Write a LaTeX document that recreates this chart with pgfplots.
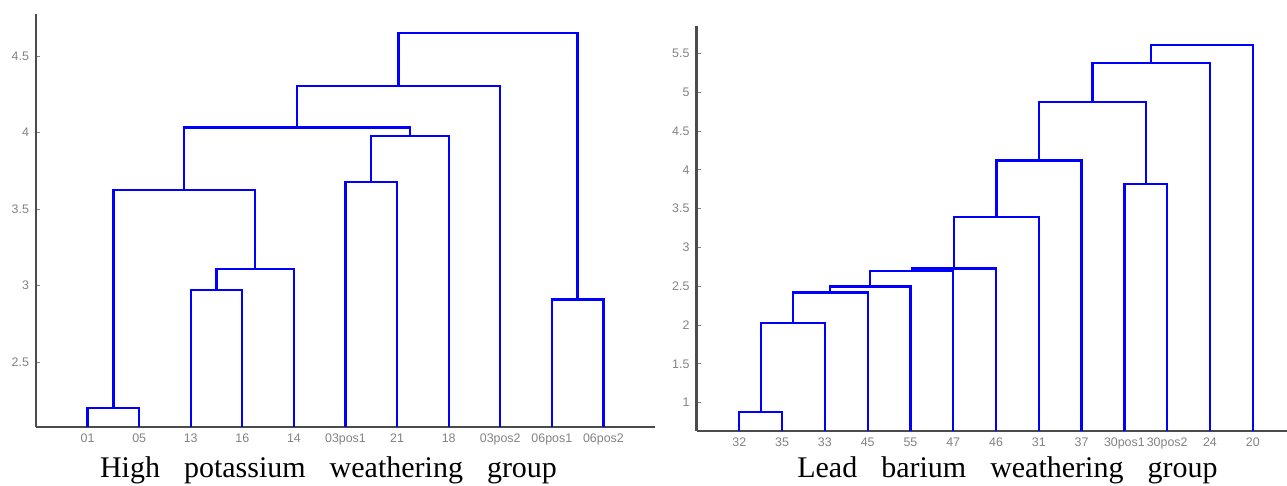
\documentclass[border=0pt]{standalone}
\usepackage{pgfplots}
\pgfplotsset{compat=1.18}
\usepackage{fontspec}
\setmainfont{Liberation Serif}
\newfontfamily\ticksf{Liberation Sans}
\definecolor{dblue}{RGB}{0,0,255}
\definecolor{axgray}{RGB}{75,75,75}
\definecolor{lblgray}{RGB}{130,130,130}
\tikzset{dl/.style={draw=dblue, line width=1.15pt, mark=none, line join=miter}}
\pgfplotsset{dendro/.style={
  scale only axis, axis lines=left, axis line style={-, axgray, line width=1.1pt},
  tick align=inside, major tick length=2pt,
  ytick style={lblgray, line width=0.4pt},
  xtick style={draw=none},
  tick label style={font=\ticksf\fontsize{6.2}{7}\selectfont, text=lblgray},
  /pgf/number format/assume math mode=true,
}}
\begin{document}
\begin{tikzpicture}
\useasboundingbox (0pt,0pt) rectangle (643.5pt,243pt);
\begin{axis}[dendro, at={(18pt,29.5pt)}, anchor=south west,
  width=309.5pt, height=206.5pt,
  xmin=0, xmax=12, ymin=2.076, ymax=4.774,
  xtick={1,2,3,4,5,6,7,8,9,10,11},
  xticklabels={01,05,13,16,14,03pos1,21,18,03pos2,06pos1,06pos2},
  ytick={2.5,3,3.5,4,4.5}]
\addplot[dl] coordinates {(1,0) (1,2.20) (2,2.20) (2,0)};
\addplot[dl] coordinates {(3,0) (3,2.97) (4,2.97) (4,0)};
\addplot[dl] coordinates {(3.5,2.97) (3.5,3.11) (5,3.11) (5,0)};
\addplot[dl] coordinates {(1.5,2.20) (1.5,3.626) (4.25,3.626) (4.25,3.11)};
\addplot[dl] coordinates {(6,0) (6,3.678) (7,3.678) (7,0)};
\addplot[dl] coordinates {(6.5,3.678) (6.5,3.976) (8,3.976) (8,0)};
\addplot[dl] coordinates {(2.875,3.626) (2.875,4.033) (7.25,4.033) (7.25,3.976)};
\addplot[dl] coordinates {(5.0625,4.033) (5.0625,4.302) (9,4.302) (9,0)};
\addplot[dl] coordinates {(10,0) (10,2.909) (11,2.909) (11,0)};
\addplot[dl] coordinates {(7.03,4.302) (7.03,4.648) (10.5,4.648) (10.5,2.909)};
\end{axis}
\begin{axis}[dendro, at={(348.25pt,27.65pt)}, anchor=south west,
  width=295.25pt, height=202.35pt,
  xmin=0, xmax=13.8, ymin=0.639, ymax=5.852,
  xtick={1,2,3,4,5,6,7,8,9,10,11,12,13},
  xticklabels={32,35,33,45,55,47,46,31,37,30pos1,30pos2,24,20},
  ytick={1,1.5,2,2.5,3,3.5,4,4.5,5,5.5}]
\addplot[dl] coordinates {(1,0) (1,0.876) (2,0.876) (2,0)};
\addplot[dl] coordinates {(1.5,0.876) (1.5,2.03) (3,2.03) (3,0)};
\addplot[dl] coordinates {(2.25,2.03) (2.25,2.419) (4,2.419) (4,0)};
\addplot[dl] coordinates {(3.125,2.419) (3.125,2.496) (5,2.496) (5,0)};
\addplot[dl] coordinates {(4.0625,2.496) (4.0625,2.70) (6,2.70) (6,0)};
\addplot[dl] coordinates {(5.03,2.70) (5.03,2.728) (7,2.728) (7,0)};
\addplot[dl] coordinates {(6.016,2.728) (6.016,3.393) (8,3.393) (8,0)};
\addplot[dl] coordinates {(7.008,3.393) (7.008,4.118) (9,4.118) (9,0)};
\addplot[dl] coordinates {(10,0) (10,3.814) (11,3.814) (11,0)};
\addplot[dl] coordinates {(8.004,4.118) (8.004,4.871) (10.5,4.871) (10.5,3.814)};
\addplot[dl] coordinates {(9.252,4.871) (9.252,5.379) (12,5.379) (12,0)};
\addplot[dl] coordinates {(10.626,5.379) (10.626,5.607) (13,5.607) (13,0)};
\end{axis}
\node[anchor=base, inner sep=0pt] at (164.25pt,4pt) {\fontsize{15}{18}\selectfont High\hspace{12pt}potassium\hspace{12pt}weathering\hspace{12pt}group};
\node[anchor=base, inner sep=0pt] at (503.7pt,4pt) {\fontsize{15}{18}\selectfont Lead\hspace{12pt}barium\hspace{12pt}weathering\hspace{12pt}group};
\end{tikzpicture}
\end{document}
